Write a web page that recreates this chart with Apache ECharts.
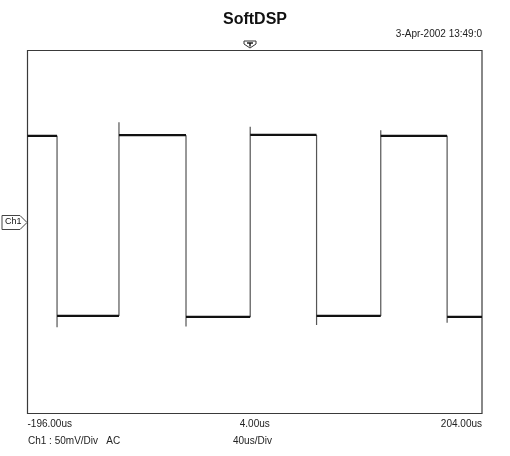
<!DOCTYPE html>
<html>
<head>
<meta charset="utf-8">
<script src="https://cdn.jsdelivr.net/npm/echarts@6/dist/echarts.min.js"></script>
<style>
  html, body { margin: 0; padding: 0; background: #fff; }
  #chart { width: 510px; height: 456px; }
</style>
</head>
<body>
<div id="chart"></div>
<script>
// ---- data (time in us, voltage in mV) ----
var edgeTimes   = [-170.0, -115.5, -56.5, 0.0, 58.4, 114.9, 173.3];
var edgeKinds   = ['fall', 'rise', 'fall', 'rise', 'fall', 'rise', 'fall'];
var edgePeaks   = [-105, 121, -104, 116, -102.5, 112, -100];
var levelValues = [106, -92.5, 106.7, -93.6, 107, -92.5, 106, -93.6];
var xTickLabels = ['-196.00us', '4.00us', '204.00us'];
var timeMin = -196, timeMax = 204, timeDiv = 40;
var voltMin = -200, voltMax = 200, voltDiv = 50;

// build horizontal segments and vertical edges from the arrays above
var flatData = [];
var edgeData = [];
var bounds = [timeMin].concat(edgeTimes, [timeMax]);
for (var i = 0; i < levelValues.length; i++) {
  flatData.push([bounds[i], levelValues[i]]);
  flatData.push([bounds[i + 1], levelValues[i]]);
  flatData.push(null);
}
for (var j = 0; j < edgeTimes.length; j++) {
  edgeData.push([edgeTimes[j], levelValues[j]]);
  edgeData.push([edgeTimes[j], edgePeaks[j]]);
  edgeData.push([edgeTimes[j], levelValues[j + 1]]);
  edgeData.push(null);
}

var chart = echarts.init(document.getElementById('chart'), null, { renderer: 'canvas' });
var font = 'Liberation Sans, Arial, sans-serif';
chart.setOption({
  animation: false,
  backgroundColor: '#fff',
  title: {
    text: 'SoftDSP', left: 'center', top: 7,
    textStyle: { fontFamily: font, fontSize: 16, fontWeight: 'bold', color: '#111' }
  },
  grid: {
    left: 27.5, right: 28, top: 50.5, bottom: 42.5,
    show: true, borderColor: '#3a3a3a', borderWidth: 1.2, backgroundColor: '#fff'
  },
  xAxis: {
    type: 'value', min: timeMin, max: timeMax, interval: 200,
    axisLine: { show: false }, axisTick: { show: false }, splitLine: { show: false },
    axisLabel: {
      margin: 6, fontFamily: font, fontSize: 10, color: '#222',
      alignMinLabel: 'left', alignMaxLabel: 'right',
      formatter: function (v) {
        var idx = Math.round((v - timeMin) / 200);
        return xTickLabels[idx] || '';
      }
    }
  },
  yAxis: {
    type: 'value', min: voltMin, max: voltMax, interval: voltDiv,
    axisLine: { show: false }, axisTick: { show: false }, splitLine: { show: false },
    axisLabel: { show: false }
  },
  series: [
    {
      type: 'line', data: edgeData, showSymbol: false, connectNulls: false,
      lineStyle: { color: '#555', width: 1.2 }, z: 2
    },
    {
      type: 'line', data: flatData, showSymbol: false, connectNulls: false,
      lineStyle: { color: '#111', width: 2.2 }, z: 3
    }
  ],
  graphic: [
    { type: 'text', right: 28, top: 29,
      style: { text: '3-Apr-2002 13:49:0', font: '10px ' + font, fill: '#222' } },
    { type: 'text', left: 28, top: 436,
      style: { text: 'Ch1 : 50mV/Div   AC', font: '10px ' + font, fill: '#222' } },
    { type: 'text', left: 233, top: 436,
      style: { text: timeDiv + 'us/Div', font: '10px ' + font, fill: '#222' } },
    { type: 'polygon',
      shape: { points: [[2, 215.5], [20, 215.5], [27, 222.5], [20, 229.5], [2, 229.5]] },
      style: { fill: '#fff', stroke: '#444', lineWidth: 1 } },
    { type: 'text', x: 5, y: 217.5,
      style: { text: 'Ch1', font: '9px ' + font, fill: '#111' } },
    { type: 'polygon',
      shape: { points: [[244, 41], [256, 41], [256, 44], [250, 48], [244, 44]] },
      style: { fill: '#fff', stroke: '#333', lineWidth: 1 } },
    { type: 'polyline',
      shape: { points: [[247, 43], [253, 43]] },
      style: { stroke: '#111', lineWidth: 1.4 } },
    { type: 'polyline',
      shape: { points: [[250, 43], [250, 46.5]] },
      style: { stroke: '#111', lineWidth: 1.4 } }
  ]
});
</script>
</body>
</html>
